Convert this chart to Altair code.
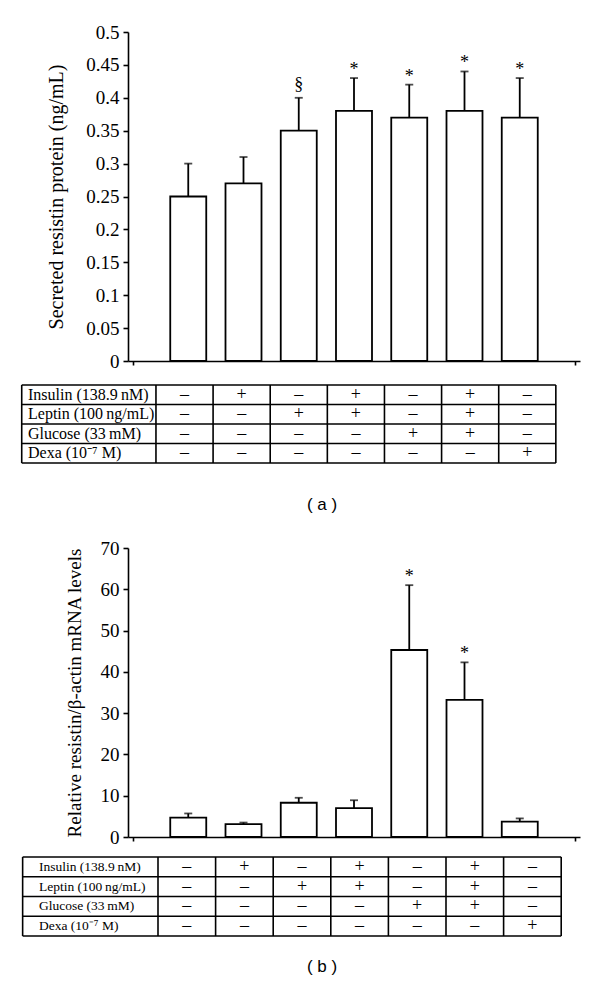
import altair as alt
import pandas as pd

# ---------------- data ----------------
positions = [1, 2, 3, 4, 5, 6, 7]

secreted_mean = [0.25, 0.27, 0.35, 0.38, 0.37, 0.38, 0.37]
secreted_err = [0.05, 0.04, 0.05, 0.05, 0.05, 0.06, 0.06]
secreted_sig = ["", "", "§", "*", "*", "*", "*"]
secreted_ticks = [0, 0.05, 0.1, 0.15, 0.2, 0.25, 0.3, 0.35, 0.4, 0.45, 0.5]

mrna_mean = [4.7, 3.1, 8.3, 7.0, 45.3, 33.2, 3.7]
mrna_err = [1.0, 0.4, 1.2, 1.9, 15.7, 9.1, 0.8]
mrna_sig = ["", "", "", "", "*", "*", ""]
mrna_ticks = [0, 10, 20, 30, 40, 50, 60, 70]

factor_labels = ["Insulin (138.9\u2009nM)", "Leptin (100\u2009ng/mL)",
                 "Glucose (33\u2009mM)", "Dexa (10\u207b\u2077 M)"]
insulin = ["–", "+", "–", "+", "–", "+", "–"]
leptin = ["–", "–", "+", "+", "–", "+", "–"]
glucose = ["–", "–", "–", "–", "+", "+", "–"]
dexa = ["–", "–", "–", "–", "–", "–", "+"]

SERIF = "Liberation Serif"
SANS = "Liberation Sans"


def plot_part(mean, err, sig, ymax, yticks, ytitle, title_size, title_pad):
    df = pd.DataFrame({
        "pos": positions,
        "mean": mean,
        "top": [m + e for m, e in zip(mean, err)],
        "sig": sig,
    })

    def xe():
        return alt.X("pos:Q", scale=alt.Scale(domain=[0, 8], nice=False, zero=False), title=None,
                     axis=alt.Axis(values=[0, 8], labels=False, grid=False, tickSize=4,
                                   tickColor="black", tickWidth=1.6,
                                   domainColor="black", domainWidth=1.6))

    def ye(field):
        return alt.Y(field, scale=alt.Scale(domain=[0, ymax], nice=False), title=ytitle,
                     axis=alt.Axis(values=yticks, format="~r", grid=False, tickSize=5,
                                   tickColor="black", tickWidth=1.6,
                                   domainColor="black", domainWidth=1.6,
                                   labelFont=SERIF, labelFontSize=19, labelColor="black",
                                   labelPadding=4,
                                   titleFont=SERIF, titleFontSize=title_size,
                                   titleFontWeight="normal", titleColor="black",
                                   titlePadding=title_pad))

    base = alt.Chart(df)
    bars = base.mark_bar(size=36, fill="white", stroke="black", strokeWidth=1.8).encode(
        x=xe(), y=ye("mean:Q"))
    errs = base.mark_rule(color="black", strokeWidth=1.8).encode(
        x=xe(), y=ye("mean:Q"), y2="top:Q")
    caps = base.mark_tick(orient="horizontal", size=8, thickness=1.8, color="black").encode(
        x=xe(), y=ye("top:Q"))
    stars = base.transform_filter("datum.sig == '*'").mark_text(
        font=SERIF, fontSize=18, color="black", baseline="alphabetic", dy=-3
    ).encode(x=xe(), y=ye("top:Q"), text="sig:N")
    sect = base.transform_filter("datum.sig == '§'").mark_text(
        font=SERIF, fontSize=18, color="black", baseline="alphabetic", dy=-8
    ).encode(x=xe(), y=ye("top:Q"), text="sig:N")
    return alt.layer(bars, errs, caps, sect, stars)


def table_part(xrange, yrange, label_x, label_size, caption, cap_x, cap_y):
    table_left = -1.85
    rows = [insulin, leptin, glucose, dexa]
    sign_records = []
    for r, vals in enumerate(rows):
        for c, v in zip(positions, vals):
            sign_records.append({"row": r + 0.5, "col": c, "sign": v})
    signs_df = pd.DataFrame(sign_records)
    labels_df = pd.DataFrame({"row": [r + 0.5 for r in range(len(factor_labels))],
                              "label": factor_labels, "x": label_x})
    h_df = pd.DataFrame({"y": list(range(len(rows) + 1)),
                         "x1": table_left, "x2": positions[-1] + 0.5})
    v_df = pd.DataFrame({"x": [table_left] + [p - 0.5 for p in positions] + [positions[-1] + 0.5],
                         "y1": 0, "y2": len(rows)})
    xsc = alt.Scale(domain=[0, 8], range=xrange, nice=False, zero=False)
    ysc = alt.Scale(domain=[0, 4], range=yrange, nice=False, zero=False)

    hl = alt.Chart(h_df).mark_rule(color="black", strokeWidth=1.6).encode(
        x=alt.X("x1:Q", scale=xsc, axis=None), x2="x2:Q",
        y=alt.Y("y:Q", scale=ysc, axis=None))
    vl = alt.Chart(v_df).mark_rule(color="black", strokeWidth=1.6).encode(
        x=alt.X("x:Q", scale=xsc, axis=None),
        y=alt.Y("y1:Q", scale=ysc, axis=None), y2="y2:Q")
    labs = alt.Chart(labels_df).mark_text(
        font=SERIF, fontSize=label_size, color="black", align="left", baseline="middle"
    ).encode(
        x=alt.X("x:Q", scale=xsc, axis=None),
        y=alt.Y("row:Q", scale=ysc, axis=None),
        text="label:N")
    signs = alt.Chart(signs_df).mark_text(
        font=SERIF, fontSize=18, color="black", align="center", baseline="middle"
    ).encode(
        x=alt.X("col:Q", scale=xsc, axis=None),
        y=alt.Y("row:Q", scale=ysc, axis=None),
        text="sign:N")
    cap = alt.Chart(pd.DataFrame({"t": [caption]})).mark_text(
        font=SANS, fontSize=17, color="black", align="center", baseline="middle"
    ).encode(x=alt.value(cap_x), y=alt.value(cap_y), text="t:N")
    return alt.layer(hl, vl, labs, signs, cap)


panel_a = alt.layer(
    plot_part(secreted_mean, secreted_err, secreted_sig, 0.5, secreted_ticks,
              "Secreted resistin protein (ng/mL)", 20, 19),
    table_part([-0.6, 456.4], [353, 431], -1.74, 16, "( a )", 194, 473),
).resolve_scale(x="independent", y="independent").properties(width=452, height=329)

panel_b = alt.layer(
    plot_part(mrna_mean, mrna_err, mrna_sig, 70, mrna_ticks,
              "Relative resistin/β-actin mRNA levels", 19, 16),
    table_part([1.2, 462], [309, 388], -1.566, 13.5, "( b )", 194, 419),
).resolve_scale(x="independent", y="independent").properties(width=452, height=289)

chart = alt.vconcat(panel_a, panel_b, spacing=26).properties(
    padding={"left": 12, "top": 15, "right": 5, "bottom": 5}
).configure(background="white").configure_view(stroke=None)

chart.save("out.html", embed_options={"renderer": "svg", "actions": False})
